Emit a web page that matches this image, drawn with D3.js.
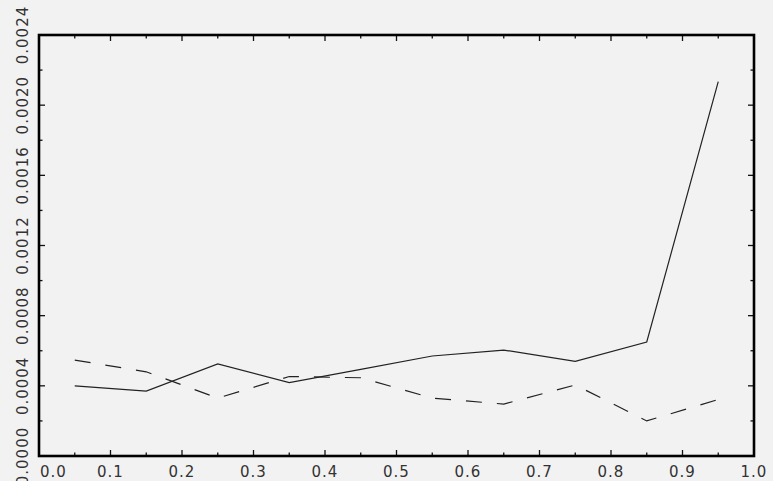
<!DOCTYPE html>
<html lang="en">
<head>
<meta charset="UTF-8">
<title>Line chart</title>
<script src="https://d3js.org/d3.v7.min.js"></script>
<style>
  html, body { margin: 0; padding: 0; background: #f2f2f2; }
  svg { display: block; }
  .lbl { font-family: "DejaVu Sans", sans-serif; font-size: 15px; fill: #333; letter-spacing: 1px; }
</style>
</head>
<body>
<div id="chart"></div>
<script>
// bin centres and the two series
const binX = [0.05, 0.15, 0.25, 0.35, 0.45, 0.55, 0.65, 0.75, 0.85, 0.95];
const solidY = [0.000400, 0.000370, 0.000525, 0.000418, 0.000494, 0.000570, 0.000604, 0.000540, 0.000650, 0.002134];
const dashY = [0.000547, 0.000480, 0.000330, 0.000453, 0.000446, 0.000330, 0.000296, 0.000405, 0.000200, 0.000322];
const xLabels = ["0.0", "0.1", "0.2", "0.3", "0.4", "0.5", "0.6", "0.7", "0.8", "0.9", "1.0"];
const yLabels = ["0.0000", "0.0004", "0.0008", "0.0012", "0.0016", "0.0020", "0.0024"];

const W = 773, H = 481;
const margin = { top: 35, right: 19, bottom: 25, left: 39 };
const width = W - margin.left - margin.right;
const height = H - margin.top - margin.bottom;

const svg = d3.select("#chart").append("svg").attr("width", W).attr("height", H);

const x = d3.scaleLinear().domain([0, 1]).range([margin.left, margin.left + width]);
const y = d3.scaleLinear().domain([0, 0.0024]).range([margin.top + height, margin.top]);

const xTicks = d3.range(0, 21).map(i => i * 0.05);
const yTicks = d3.range(0, 13).map(i => i * 0.0002);

// ticks pointing into the plot, longer on labelled values
function tickLen(i) { return i % 2 === 0 ? 6 : 3.5; }

const g = svg.append("g").attr("stroke", "#111").attr("stroke-width", 1.3);
xTicks.forEach((v, i) => {
  if (i === 0 || i === 20) return;
  g.append("line").attr("x1", x(v)).attr("x2", x(v))
    .attr("y1", y(0)).attr("y2", y(0) - tickLen(i));
  g.append("line").attr("x1", x(v)).attr("x2", x(v))
    .attr("y1", y(0.0024)).attr("y2", y(0.0024) + tickLen(i));
});
yTicks.forEach((v, i) => {
  if (i === 0 || i === 12) return;
  g.append("line").attr("y1", y(v)).attr("y2", y(v))
    .attr("x1", x(0)).attr("x2", x(0) + tickLen(i));
  g.append("line").attr("y1", y(v)).attr("y2", y(v))
    .attr("x1", x(1)).attr("x2", x(1) - tickLen(i));
});

// lines
const pts = ys => binX.map((v, i) => [v, ys[i]]);
const line = d3.line().x(d => x(d[0])).y(d => y(d[1]));

svg.append("path").datum(pts(solidY))
  .attr("d", line).attr("fill", "none")
  .attr("stroke", "#222").attr("stroke-width", 1.2);

svg.append("path").datum(pts(dashY))
  .attr("d", line).attr("fill", "none")
  .attr("stroke", "#222").attr("stroke-width", 1.2)
  .attr("stroke-dasharray", "16,15");

// frame
svg.append("rect")
  .attr("x", x(0)).attr("y", y(0.0024))
  .attr("width", x(1) - x(0)).attr("height", y(0) - y(0.0024))
  .attr("fill", "none").attr("stroke", "#000").attr("stroke-width", 2.6);

// x labels
svg.selectAll("text.xl").data(xLabels).enter().append("text")
  .attr("class", "lbl xl")
  .attr("x", (d, i) => i === 0 ? x(0) + 1 : x(i / 10))
  .attr("y", 477)
  .attr("text-anchor", (d, i) => i === 0 ? "start" : "middle")
  .text(d => d);

// y labels, rotated
svg.selectAll("text.yl").data(yLabels).enter().append("text")
  .attr("class", "lbl yl")
  .attr("transform", (d, i) => `translate(28,${y(i * 0.0004)}) rotate(-90)`)
  .attr("text-anchor", "middle")
  .text(d => d);
</script>
</body>
</html>
